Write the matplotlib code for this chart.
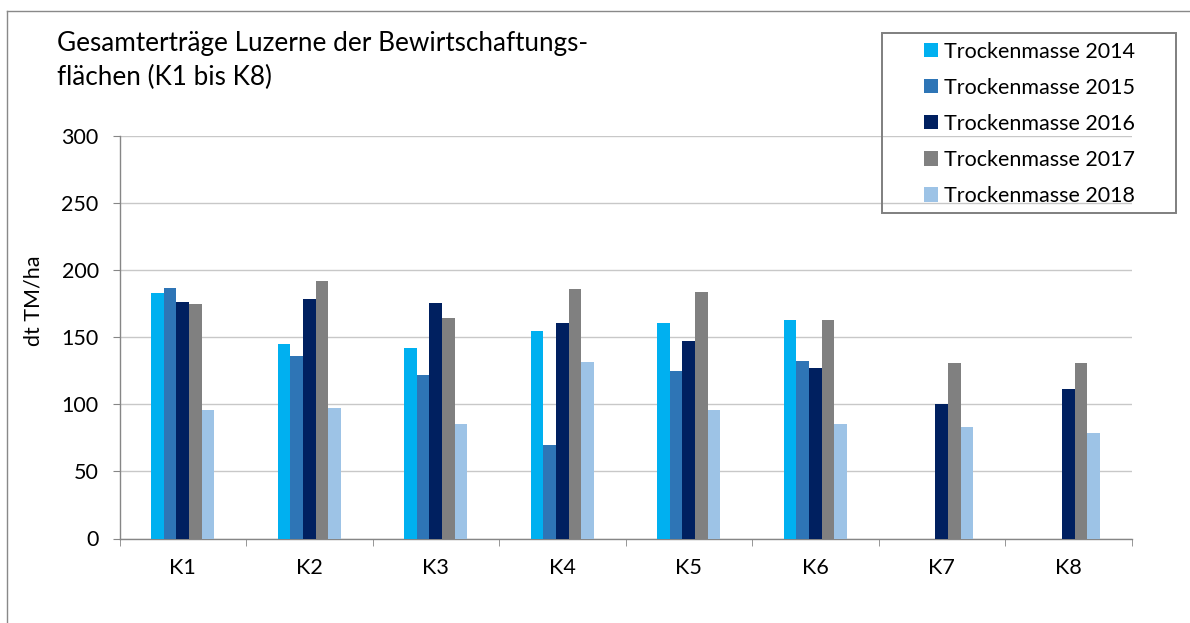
import numpy as np
import matplotlib
matplotlib.use("Agg")
import matplotlib.pyplot as plt
from matplotlib.patches import Rectangle
from matplotlib.lines import Line2D

plt.rcParams['font.family'] = ['Lato', 'DejaVu Sans']

fields = ['K1', 'K2', 'K3', 'K4', 'K5', 'K6', 'K7', 'K8']
years = ['2014', '2015', '2016', '2017', '2018']

# dry matter yield in dt TM/ha, nan = no harvest recorded
tm_2014 = [182.8, 145.0, 142.0, 154.7, 160.4, 162.6, np.nan, np.nan]
tm_2015 = [186.5, 136.2, 121.5, 70.0, 124.8, 132.3, np.nan, np.nan]
tm_2016 = [176.3, 178.8, 175.6, 160.6, 147.4, 126.8, 100.4, 111.3]
tm_2017 = [175.1, 191.8, 164.6, 185.8, 183.6, 162.9, 130.8, 131.0]
tm_2018 = [96.1, 97.1, 85.7, 131.3, 95.6, 85.7, 83.2, 78.5]

colors = ['#00B0F0', '#2E75B6', '#002060', '#808080', '#9DC3E6']

W, H = 1190, 623
fig = plt.figure(figsize=(W / 100, H / 100), dpi=100)

def fx(px):
    return px / W

def fy(py):
    return 1 - py / H

ax = fig.add_axes([fx(119.5), fy(538.5), fx(1131.5) - fx(119.5), fy(136) - fy(538.5)])

x = np.arange(len(fields))
bw = 0.1
series = [tm_2014, tm_2015, tm_2016, tm_2017, tm_2018]
for i, (vals, year, col) in enumerate(zip(series, years, colors)):
    ax.bar(x + (i - 2) * bw, vals, width=bw, color=col, label='Trockenmasse ' + year,
           zorder=3)

ax.set_xlim(-0.5, len(fields) - 0.5)
ax.set_ylim(0, 300)
ax.set_yticks(np.arange(0, 301, 50))
ax.set_xticks(x)
ax.set_xticklabels(fields)
ax.set_xticks(np.arange(-0.5, len(fields)), minor=True)

ax.grid(axis='y', color='#C8C8C8', linewidth=1, zorder=0)
ax.set_axisbelow(True)
for side in ['top', 'right']:
    ax.spines[side].set_visible(False)
for side in ['left', 'bottom']:
    ax.spines[side].set_color('#868686')
    ax.spines[side].set_linewidth(1)

fs = 15.5
ax.tick_params(axis='y', which='major', direction='out', length=5, color='#868686',
               labelsize=fs, pad=10, labelcolor='#000000')
ax.tick_params(axis='x', which='major', length=0, labelsize=fs, pad=14)
ax.tick_params(axis='x', which='minor', direction='out', length=5, color='#868686')

fig.text(fx(33), fy(301), 'dt TM/ha', rotation=90, ha='center', va='center', fontsize=fs)

fig.text(fx(57), fy(50.7), 'Gesamterträge Luzerne der Bewirtschaftungs-', fontsize=18.8,
         va='baseline', ha='left')
fig.text(fx(57), fy(85), 'flächen (K1 bis K8)', fontsize=18.8, va='baseline', ha='left')

handles, labels = ax.get_legend_handles_labels()
fig.legend(handles, labels, loc='upper left', bbox_to_anchor=(fx(924), fy(41.5)),
           frameon=False, fontsize=fs, borderpad=0, borderaxespad=0,
           handlelength=0.65, handleheight=0.65, handletextpad=0.3, labelspacing=0.75)
fig.add_artist(Rectangle((fx(882), fy(212.7)), fx(1176) - fx(882), fy(33) - fy(212.7),
                         transform=fig.transFigure, fill=False, edgecolor='#7F7F7F',
                         linewidth=1.4))

# outer chart frame, open to the right and bottom
fig.add_artist(Line2D([fx(7), fx(7)], [fy(11), 0], transform=fig.transFigure,
                      color='#898989', linewidth=1))
fig.add_artist(Line2D([fx(7), 1], [fy(11), fy(11)], transform=fig.transFigure,
                      color='#898989', linewidth=1))

fig.savefig('out.png', dpi=100)
